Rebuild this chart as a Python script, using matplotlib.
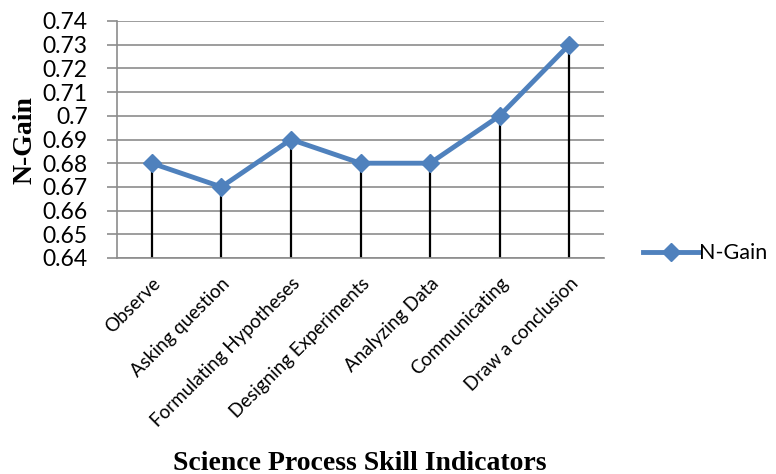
import matplotlib
matplotlib.use("Agg")
import matplotlib.pyplot as plt

categories = ["Observe", "Asking question", "Formulating Hypotheses",
              "Designing Experiments", "Analyzing Data", "Communicating",
              "Draw a conclusion"]
n_gain = [0.68, 0.67, 0.69, 0.68, 0.68, 0.70, 0.73]
yticks = [0.64, 0.65, 0.66, 0.67, 0.68, 0.69, 0.70, 0.71, 0.72, 0.73, 0.74]
ytick_labels = ["0.64", "0.65", "0.66", "0.67", "0.68", "0.69", "0.7",
                "0.71", "0.72", "0.73", "0.74"]

fig = plt.figure(figsize=(7.76, 4.74), dpi=100)
ax = fig.add_axes([117/776, 1-258/474, (604-117)/776, (258-21)/474])

x = list(range(len(categories)))
ax.vlines(x, 0.64, n_gain, colors="black", linewidth=1.6, zorder=2)
ax.plot(x, n_gain, color="#4F81BD", linewidth=3.5, marker="D", markersize=9,
        label="N-Gain", zorder=3)

ax.set_xlim(-0.5, len(categories) - 0.5)
ax.set_ylim(0.64, 0.74)
ax.set_yticks(yticks)
ax.set_yticklabels(ytick_labels, fontsize=16.5, family="Lato")
ax.set_xticks(x)
ax.set_xticklabels(categories, rotation=45, ha="right", rotation_mode="anchor",
                   fontsize=13.5, family="Lato")
ax.tick_params(axis="x", length=0, pad=12)
ax.tick_params(axis="y", length=7, color="#8c8c8c", width=1.2, pad=14)
ax.grid(axis="y", color="#8c8c8c", linewidth=1.2, zorder=0)
for s in ["top", "right"]:
    ax.spines[s].set_visible(False)
for s in ["left", "bottom"]:
    ax.spines[s].set_color("#8c8c8c")
    ax.spines[s].set_linewidth(1.2)

fig.text(25/776, 1-140/474, "N-Gain", fontsize=20, fontweight="bold",
         family="Liberation Serif", rotation=90, ha="center", va="center")
fig.text(360/776, 1-463/474, "Science Process Skill Indicators", fontsize=20,
         fontweight="bold", family="Liberation Serif", ha="center", va="center")

leg = ax.legend(loc="center left", bbox_to_anchor=(1.04, 0.02), frameon=False,
                prop={"family": "Lato", "size": 15.5}, handlelength=2.6,
                handletextpad=0.0)

fig.savefig("out.png", dpi=100)
